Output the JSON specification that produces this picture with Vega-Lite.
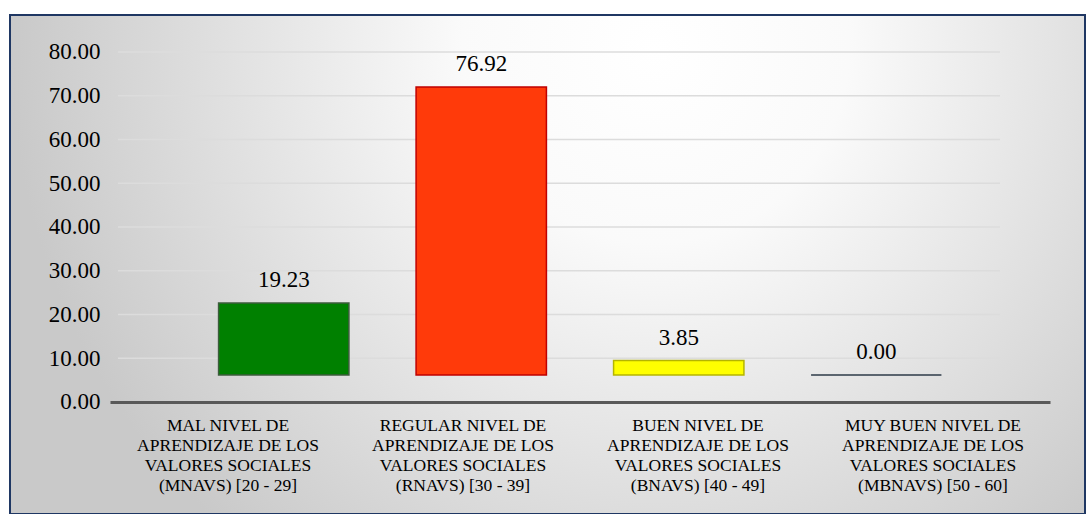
{
  "$schema": "https://vega.github.io/schema/vega-lite/v6.json",
  "width": 1075,
  "height": 499,
  "autosize": {"type": "none"},
  "padding": {"left": 10, "top": 15, "right": 4, "bottom": 0},
  "background": "#ffffff",
  "view": {
    "stroke": "#1f3763",
    "strokeWidth": 2,
    "fill": {
      "gradient": "radial",
      "x1": 0.6, "y1": 0.3, "r1": 0,
      "x2": 0.6, "y2": 0.3, "r2": 0.6,
      "stops": [
        {"offset": 0, "color": "#ffffff"},
        {"offset": 0.3, "color": "#fafafa"},
        {"offset": 1, "color": "#c9c9c9"}
      ]
    }
  },
  "datasets": {
    "main": [
      {"cat": "MAL NIVEL DE|APRENDIZAJE DE LOS|VALORES SOCIALES|(MNAVS) [20 - 29]", "value": 19.23},
      {"cat": "REGULAR NIVEL DE|APRENDIZAJE DE LOS|VALORES SOCIALES|(RNAVS) [30 - 39]", "value": 76.92},
      {"cat": "BUEN NIVEL DE|APRENDIZAJE DE LOS|VALORES SOCIALES|(BNAVS) [40 - 49]", "value": 3.85},
      {"cat": "MUY BUEN NIVEL DE|APRENDIZAJE DE LOS|VALORES SOCIALES|(MBNAVS) [50 - 60]", "value": 0.0}
    ],
    "grid": [
      {"v": 10}, {"v": 20}, {"v": 30}, {"v": 40}, {"v": 50}, {"v": 60}, {"v": 70}, {"v": 80}
    ]
  },
  "resolve": {"scale": {"x": "independent", "y": "independent"}, "axis": {"x": "independent", "y": "independent"}},
  "layer": [
    {
      "data": {"name": "grid"},
      "mark": {"type": "rule", "color": "#dcdcdc", "strokeWidth": 1.5},
      "encoding": {
        "y": {
          "field": "v", "type": "quantitative",
          "scale": {"domain": [-25.6, 88.457], "nice": false, "zero": false},
          "axis": {
            "values": [0, 10, 20, 30, 40, 50, 60, 70, 80],
            "format": ".2f",
            "domain": false, "ticks": false, "grid": false,
            "offset": -100, "labelPadding": 10,
            "labelFont": "Times New Roman, Liberation Serif, serif", "labelFontSize": 23, "labelColor": "#000000",
            "title": null
          }
        },
        "x": {"datum": 0, "type": "quantitative", "scale": {"domain": [0, 1], "range": [108, 990]}, "axis": null},
        "x2": {"datum": 1}
      }
    },
    {
      "data": {"name": "main"},
      "layer": [
        {
          "mark": {"type": "bar", "width": {"band": 0.66}, "strokeWidth": 1.5},
          "encoding": {
            "color": {
              "field": "cat", "type": "nominal", "sort": null,
              "scale": {"range": ["#008000", "#ff3a0a", "#ffff00", "#5f7082"]},
              "legend": null
            },
            "stroke": {
              "field": "cat", "type": "nominal", "sort": null,
              "scale": {"range": ["#3d5c3d", "#c00000", "#b5b500", "#2e3b48"]},
              "legend": null
            }
          }
        },
        {
          "mark": {"type": "text", "font": "Times New Roman, Liberation Serif, serif", "fontSize": 23, "color": "#000000", "baseline": "alphabetic", "dy": -16},
          "encoding": {"text": {"field": "value", "type": "quantitative", "format": ".2f"}}
        }
      ],
      "encoding": {
        "x": {
          "field": "cat", "type": "nominal", "sort": null,
          "scale": {"range": [175, 965], "paddingInner": 0, "paddingOuter": 0},
          "axis": null
        },
        "y": {
          "field": "value", "type": "quantitative",
          "scale": {"domain": [-37.13, 96.15], "nice": false, "zero": false},
          "axis": null
        }
      }
    },
    {
      "data": {"name": "main"},
      "mark": {"type": "point", "opacity": 0},
      "encoding": {
        "x": {
          "field": "cat", "type": "nominal", "sort": null,
          "scale": {"range": [100, 1040], "paddingInner": 0, "paddingOuter": 0},
          "axis": {
            "orient": "bottom", "offset": -112,
            "domainColor": "#595959", "domainWidth": 3,
            "ticks": false, "labelAngle": 0,
            "labelExpr": "split(datum.label, '|')",
            "labelFont": "Times New Roman, Liberation Serif, serif", "labelFontSize": 17.5, "labelLineHeight": 20,
            "labelBaseline": "top", "labelPadding": 14, "labelColor": "#000000",
            "labelLimit": 0, "title": null
          }
        }
      }
    }
  ]
}
